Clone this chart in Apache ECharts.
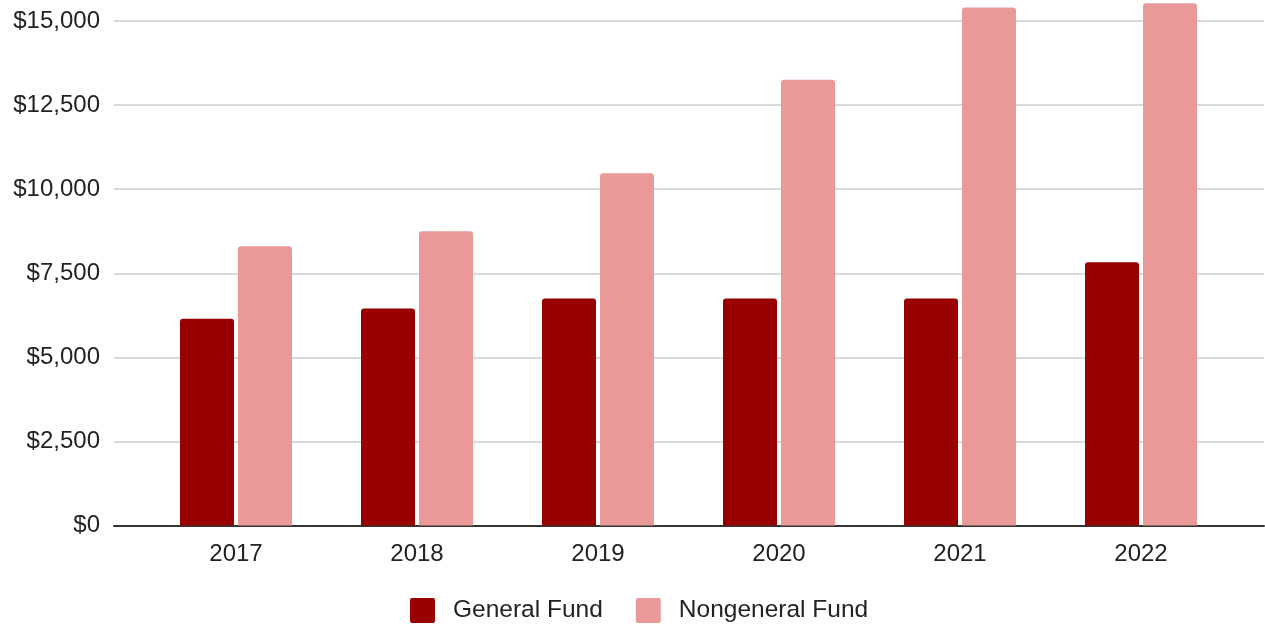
<!DOCTYPE html>
<html>
<head>
<meta charset="utf-8">
<title>General and Nongeneral Fund</title>
<script src="https://cdn.jsdelivr.net/npm/echarts@6/dist/echarts.min.js"></script>
<style>
  html, body { margin: 0; padding: 0; background: #fff; }
  #chart { width: 1265px; height: 626px; }
</style>
</head>
<body>
<div id="chart"></div>
<script>
// 年份与两类资金的数值
const years = ['2017', '2018', '2019', '2020', '2021', '2022'];
const generalFund = [6150, 6450, 6750, 6750, 6750, 7825];
const nongeneralFund = [8300, 8750, 10475, 13250, 15400, 15525];
const yTicks = { min: 0, max: 15000, interval: 2500 };

const chart = echarts.init(document.getElementById('chart'));

const fmtMoney = (v) => '$' + v.toLocaleString('en-US');
const font = 'Arial, "Liberation Sans", sans-serif';
// 小圆角方块图例
const legendIcon = 'path://M2,0 L23,0 Q25,0 25,2 L25,23 Q25,25 23,25 L2,25 Q0,25 0,23 L0,2 Q0,0 2,0 Z';

const option = {
  animation: false,
  textStyle: { fontFamily: font },
  legend: {
    bottom: -2,
    left: 405,
    itemWidth: 25,
    itemHeight: 25,
    itemGap: 33,
    icon: legendIcon,
    textStyle: { fontSize: 24.5, color: '#222', padding: [0, 0, 0, 13], fontFamily: font },
    data: ['General Fund', 'Nongeneral Fund']
  },
  grid: [
    // 背景网格：只画刻度与分隔线
    { left: 114, right: 1, top: 21, bottom: 100.5, containLabel: false },
    // 柱状图网格
    { left: 145.5, right: 33.5, top: 21, bottom: 100.5, containLabel: false }
  ],
  xAxis: [
    {
      gridIndex: 0,
      type: 'category',
      data: [''],
      axisLine: { show: true, lineStyle: { color: '#333', width: 2 } },
      axisTick: { show: false },
      axisLabel: { show: false }
    },
    {
      gridIndex: 1,
      type: 'category',
      data: years,
      axisLine: { show: false },
      axisTick: { show: false },
      axisLabel: { fontSize: 24, color: '#222', margin: 17, fontFamily: font }
    }
  ],
  yAxis: [
    {
      gridIndex: 0,
      type: 'value',
      min: yTicks.min,
      max: yTicks.max,
      interval: yTicks.interval,
      axisLine: { show: false },
      axisTick: { show: false },
      splitLine: { lineStyle: { color: '#cccccc', width: 1.5 } },
      axisLabel: { fontSize: 24, color: '#222', margin: 14, formatter: fmtMoney, fontFamily: font }
    },
    {
      gridIndex: 1,
      type: 'value',
      min: yTicks.min,
      max: yTicks.max,
      interval: yTicks.interval,
      show: false
    }
  ],
  series: [
    {
      name: 'General Fund',
      type: 'bar',
      xAxisIndex: 1,
      yAxisIndex: 1,
      data: generalFund,
      barWidth: 54,
      barGap: '7.4%',
      clip: false,
      itemStyle: { color: '#990000', borderRadius: [3, 3, 0, 0] }
    },
    {
      name: 'Nongeneral Fund',
      type: 'bar',
      xAxisIndex: 1,
      yAxisIndex: 1,
      data: nongeneralFund,
      barWidth: 54,
      barGap: '7.4%',
      clip: false,
      itemStyle: { color: '#ea9999', borderRadius: [3, 3, 0, 0] }
    }
  ]
};

chart.setOption(option);
</script>
</body>
</html>
